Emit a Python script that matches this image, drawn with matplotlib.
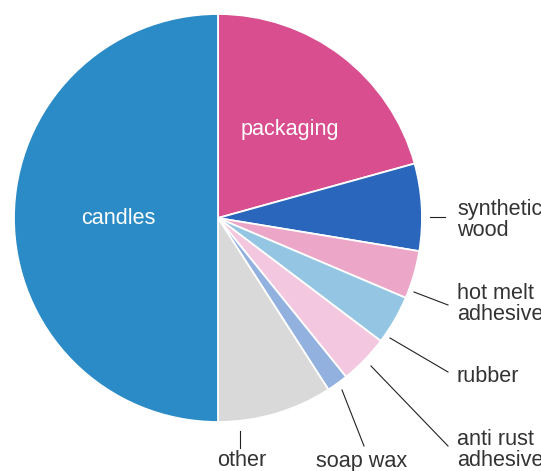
import numpy as np
import matplotlib.pyplot as plt
import matplotlib as mpl

mpl.rcParams['font.family'] = ['Liberation Sans', 'DejaVu Sans']

# ---- data (share in %, clockwise from 12 o'clock) ----
labels = ['packaging', 'synthetic\nwood', 'hot melt\nadhesive', 'rubber',
          'anti rust\nadhesive', 'soap wax', 'other', 'candles']
values = [20.7, 6.9, 3.8, 3.9, 3.9, 1.7, 9.1, 50.0]
colors = ['#d94e8e', '#2966bc', '#eba6c8', '#94c5e3',
          '#f3c7df', '#93b1df', '#d9d9d9', '#2a8bc6']

W, H = 541, 471
cx, cy, R = 218, 218, 204

fig = plt.figure(figsize=(W / 100, H / 100), dpi=100)
ax = fig.add_axes([0, 0, 1, 1])

# y axis runs downward (pixel-like), so counterclock in data = clockwise on screen
wedges, _ = ax.pie(values, colors=colors, startangle=-90, counterclock=True,
                   center=(cx, cy), radius=R,
                   wedgeprops=dict(edgecolor='white', linewidth=1.3))
ax.set_xlim(0, W)
ax.set_ylim(H, 0)
ax.set_aspect('equal')
ax.axis('off')

fs = 15.6
txt = '#333333'

# labels inside the big slices
ax.text(290, 129, labels[0], color='white', fontsize=fs, ha='center', va='center')
ax.text(118, 219, labels[7], color='white', fontsize=fs, ha='center', va='center')

# outside labels: text anchor, alignment, leader line start / end
outside = {
    labels[1]: ((457, 220), 'left', (430, 217), (445, 217)),
    labels[2]: ((457, 304), 'left', (414, 292), (448, 305)),
    labels[3]: ((457, 377), 'left', (390, 338), (448, 372)),
    labels[4]: ((457, 450), 'left', (371, 366), (448, 446)),
    labels[5]: ((362, 461), 'center', (342, 390), (364, 446)),
    labels[6]: ((242, 461), 'center', (240, 431), (240, 448)),
}
for name, (pos, ha, p0, p1) in outside.items():
    ax.text(pos[0], pos[1], name, color=txt, fontsize=fs, ha=ha, va='center',
            linespacing=0.98)
    ax.plot([p0[0], p1[0]], [p0[1], p1[1]], color='#222222', lw=0.8)

plt.savefig('out.png', dpi=100)
